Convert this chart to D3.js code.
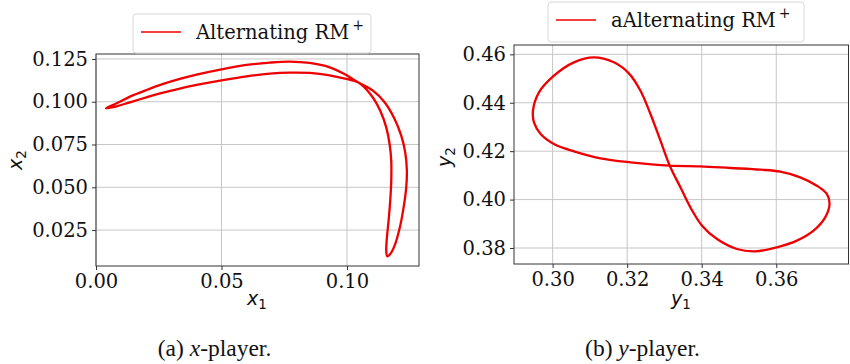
<!DOCTYPE html>
<html><head><meta charset="utf-8">
<script src="https://cdn.jsdelivr.net/npm/d3@7"></script>
<style>body{margin:0;background:#fff}</style></head>
<body>
<svg id="c" width="850" height="364"></svg>
<script>
// ---- data: (a) x-player trajectory ----
const xPlayerX1 = [0.00398,0.00822,0.01353,0.02016,0.02679,0.03342,0.04005,0.05,0.05995,0.06923,0.07719,0.08515,0.0931,0.09973,0.10438,
  0.11034,0.11499,0.11897,0.12162,0.12321,0.12387,0.12361,0.12268,0.12122,0.11897,0.11724,0.11605,
  0.11565,0.11592,0.11658,0.11724,0.11764,0.11764,0.11698,0.11565,0.11326,0.10928,
  0.10438,0.09973,0.0931,0.08515,0.07719,0.06923,0.05995,0.05,0.04005,0.03342,0.02679,0.02016,0.01353,0.00822];
const xPlayerX2 = [0.09616,0.09908,0.10298,0.10688,0.11039,0.11331,0.11584,0.11896,0.12149,0.12286,0.12344,0.12266,0.12013,0.11565,0.11136,
  0.10649,0.09967,0.08993,0.08018,0.07044,0.05972,0.04998,0.03926,0.02757,0.01588,0.01100,0.00964,
  0.01296,0.02075,0.03051,0.04218,0.05388,0.06557,0.07531,0.08505,0.09480,0.10454,
  0.11136,0.11331,0.11545,0.11682,0.11701,0.11643,0.11487,0.11253,0.10980,0.10766,0.10532,0.10259,0.09967,0.09733];
// ---- data: (b) y-player trajectory ----
const yPlayerY1 = [0.33143,0.32893,0.32625,0.32357,0.32045,0.31643,0.31107,0.30571,0.30036,0.29634,0.29473,0.29500,0.29679,0.30036,0.30571,0.31286,0.32089,
  0.33143,0.33964,0.34768,0.35571,0.36107,0.36643,0.37089,0.37357,0.37429,0.37313,0.37,0.36554,0.36018,0.35438,0.34946,0.34411,0.34009,0.33696,0.33429];
const yPlayerY2 = [0.41401,0.42434,0.43535,0.44499,0.45215,0.45670,0.45876,0.45670,0.45119,0.44430,0.43673,0.43191,0.42709,0.42296,0.41993,0.41704,0.41539,
  0.41401,0.41374,0.41305,0.41236,0.41153,0.40919,0.40575,0.40231,0.39818,0.39267,0.38716,0.38303,0.38028,0.37862,0.37959,0.38372,0.38923,0.39680,0.40506];
// ---- ticks ----
const xTicksA = [0.00, 0.05, 0.10];
const yTicksA = [0.025, 0.050, 0.075, 0.100, 0.125];
const xTicksB = [0.30, 0.32, 0.34, 0.36];
const yTicksB = [0.38, 0.40, 0.42, 0.44, 0.46];
const legendA = "Alternating RM";
const legendB = "aAlternating RM";
const captionA = ["(a) ", "x", "-player."];
const captionB = ["(b) ", "y", "-player."];

const svg = d3.select("#c");
const SERIF = "'DejaVu Serif', serif";
const SANS = "'DejaVu Sans', sans-serif";
const TIMES = "'Liberation Serif', 'Times New Roman', serif";
const RED = "#ee0000";

function panel(o) {
  const x = d3.scaleLinear().domain(o.xd).range([o.l, o.r]);
  const y = d3.scaleLinear().domain(o.yd).range([o.b, o.t]);
  const g = svg.append("g");
  // grid
  g.append("g").selectAll("line").data(o.xt).join("line")
    .attr("x1", d => x(d)).attr("x2", d => x(d)).attr("y1", o.t).attr("y2", o.b)
    .style("stroke", "#c6c6c6").attr("stroke-width", 1);
  g.append("g").selectAll("line").data(o.yt).join("line")
    .attr("x1", o.l).attr("x2", o.r).attr("y1", d => y(d)).attr("y2", d => y(d))
    .style("stroke", "#c6c6c6").attr("stroke-width", 1);
  // curve
  const pts = o.xs.map((v, i) => [v, o.ys[i]]);
  g.append("path").datum(pts)
    .attr("d", d3.line().x(d => x(d[0])).y(d => y(d[1])).curve(d3.curveCatmullRomClosed.alpha(0.5)))
    .attr("fill", "none").style("stroke", RED).attr("stroke-width", 2.3);
  // frame
  g.append("rect").attr("x", o.l).attr("y", o.t).attr("width", o.r - o.l).attr("height", o.b - o.t)
    .attr("fill", "none").style("stroke", "#333").attr("stroke-width", 1);
  // axes
  const ax = g.append("g").attr("transform", `translate(0,${o.b})`)
    .call(d3.axisBottom(x).tickValues(o.xt).tickFormat(d3.format(o.xf)).tickSize(4).tickPadding(4));
  const ay = g.append("g").attr("transform", `translate(${o.l},0)`)
    .call(d3.axisLeft(y).tickValues(o.yt).tickFormat(d3.format(o.yf)).tickSize(4).tickPadding(4));
  [ax, ay].forEach(a => {
    a.select(".domain").remove();
    a.selectAll("line").style("stroke", "#333");
    a.selectAll("text").attr("font-family", SERIF).attr("font-size", 19.5).attr("fill", "#111");
  });
  // axis labels
  const xl = g.append("text").attr("x", o.xlx).attr("y", o.xly).attr("text-anchor", "middle")
    .attr("font-family", SANS).attr("font-size", 19).attr("fill", "#111");
  xl.append("tspan").attr("font-style", "italic").text(o.xlab);
  xl.append("tspan").attr("font-size", 13.5).attr("dy", 4).text("1");
  const yl = g.append("text").attr("transform", `translate(${o.ylx},${o.yly}) rotate(-90)`).attr("text-anchor", "middle")
    .attr("font-family", SANS).attr("font-size", 19).attr("fill", "#111");
  yl.append("tspan").attr("font-style", "italic").text(o.ylab);
  yl.append("tspan").attr("font-size", 13.5).attr("dy", 4).text("2");
  // legend
  const L = o.leg;
  const lg = svg.append("g");
  lg.append("rect").attr("x", L.x).attr("y", L.y).attr("width", L.w).attr("height", L.h).attr("rx", 3)
    .attr("fill", "#fff").attr("fill-opacity", 0.85).style("stroke", "#d8d8d8");
  lg.append("path").attr("d", `M${L.x + 8},${L.ly}H${L.x + 48}`)
    .attr("fill", "none").style("stroke", RED).attr("stroke-width", 1.3);
  const lt = lg.append("text").attr("x", L.x + 63).attr("y", L.ly + 7)
    .attr("font-family", SERIF).attr("font-size", 19.5).attr("fill", "#111").text(L.text);
  lt.append("tspan").attr("dx", 3).attr("dy", -9).attr("font-size", 14).text("+");
  // caption
  const c = svg.append("text").attr("x", o.cx).attr("y", 356).attr("text-anchor", "middle")
    .attr("font-family", TIMES).attr("font-size", 23.5).attr("fill", "#111");
  c.append("tspan").text(o.cap[0]);
  c.append("tspan").attr("font-style", "italic").text(o.cap[1]);
  c.append("tspan").text(o.cap[2]);
}

panel({l: 96, r: 419, t: 54, b: 266, xd: [0, 0.1287], yd: [0.0040, 0.1279],
  xt: xTicksA, yt: yTicksA, xf: ".2f", yf: ".3f", xs: xPlayerX1, ys: xPlayerX2,
  xlab: "x", ylab: "x", xlx: 257, xly: 305, ylx: 22, yly: 160,
  leg: {x: 133, y: 14, w: 238, h: 39, ly: 32, text: legendA}, cx: 214.5, cap: captionA});

panel({l: 514, r: 848.5, t: 45, b: 264, xd: [0.28964, 0.37938], yd: [0.37339, 0.46386],
  xt: xTicksB, yt: yTicksB, xf: ".2f", yf: ".2f", xs: yPlayerY1, ys: yPlayerY2,
  xlab: "y", ylab: "y", xlx: 681, xly: 305, ylx: 451, yly: 157,
  leg: {x: 548, y: 2, w: 256, h: 40, ly: 20, text: legendB}, cx: 642.5, cap: captionB});
</script>
</body></html>
